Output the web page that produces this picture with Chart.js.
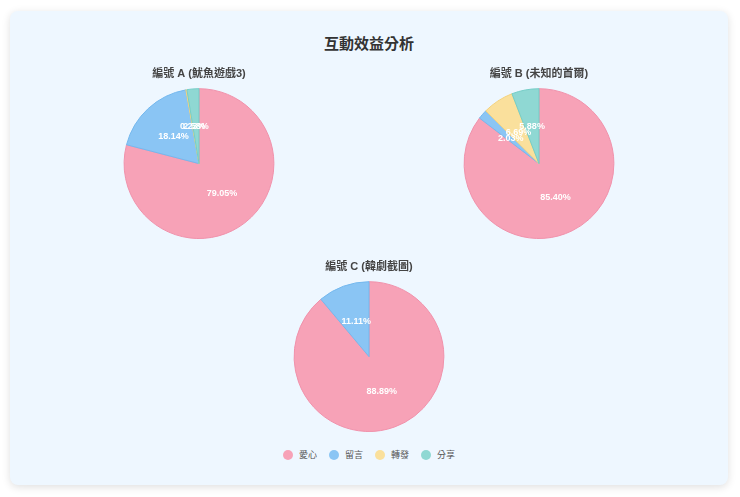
<!DOCTYPE html>
<html lang="zh-Hant">
<head>
<meta charset="utf-8">
<script src="https://cdn.jsdelivr.net/npm/chart.js@4/dist/chart.umd.min.js"></script>
<style>
  html,body{margin:0;padding:0;background:#fff;width:740px;height:497px;overflow:hidden;
    font-family:'Liberation Sans','Noto Sans CJK TC',sans-serif;}
  .card{position:absolute;left:10px;top:11px;width:718px;height:474px;background:#eef7ff;
    border-radius:8px;box-shadow:0 2px 8px rgba(0,0,0,0.13);}
  .ttl{position:absolute;left:0;top:24px;width:100%;text-align:center;font-size:15px;line-height:18px;
    font-weight:bold;color:#333;}
  .pie{position:absolute;width:340px;height:172px;}
  .lg{position:absolute;left:0;top:437px;width:100%;display:flex;justify-content:center;gap:12px;
    font-size:9px;line-height:14px;color:#555;}
  .lg span{display:flex;align-items:center;gap:6px;}
  .lg i{display:inline-block;width:10px;height:10px;border-radius:50%;}
</style>
</head>
<body>
<div class="card">
  <div class="ttl">互動效益分析</div>
  <div class="pie" style="left:19px;top:56px"><canvas id="pA"></canvas></div>
  <div class="pie" style="left:359px;top:56px"><canvas id="pB"></canvas></div>
  <div class="pie" style="left:189px;top:249px"><canvas id="pC"></canvas></div>
  <div class="lg" id="lg"></div>
</div>
<script>
/* ── data ── */
const cats=['愛心','留言','轉發','分享'];
const titles=['編號 A (魷魚遊戲3)','編號 B (未知的首爾)','編號 C (韓劇截圖)'];
const postA=[79.05,18.14,0.23,2.58];
const postB=[85.40,2.03,6.69,5.88];
const postC=[88.89,11.11,0,0];
const fills=['#f7a2b7','#8ac5f4','#fae09c','#8fd8d3'];
const edges=['#f091ab','#74b8ee','#f3d27e','#75cdc7'];

/* ── white % labels at the middle of each slice ── */
const pctLabels={id:'pctLabels',afterDatasetsDraw(chart){
  const ctx=chart.ctx,ds=chart.data.datasets[0],meta=chart.getDatasetMeta(0);
  const tot=ds.data.reduce((a,b)=>a+b,0);
  ctx.save();ctx.fillStyle='#fff';ctx.font="bold 9px 'Liberation Sans',sans-serif";
  ctx.textAlign='center';ctx.textBaseline='middle';
  meta.data.forEach((arc,i)=>{
    const v=ds.data[i];if(!v)return;
    const p=arc.tooltipPosition();
    ctx.fillText((v/tot*100).toFixed(2)+'%',p.x,p.y);
  });
  ctx.restore();
}};

function pie(id,title,data){
  new Chart(document.getElementById(id),{type:'pie',
    data:{labels:cats,datasets:[{data,backgroundColor:fills,borderColor:edges,borderWidth:1,hoverOffset:0}]},
    options:{responsive:true,animation:false,maintainAspectRatio:false,
      layout:{padding:0},
      plugins:{legend:{display:false},tooltip:{enabled:false},
        title:{display:true,text:title,color:'#444',padding:{top:0,bottom:8},
          font:{size:11,weight:'bold',family:"'Liberation Sans','Noto Sans CJK TC',sans-serif"}}}},
    plugins:[pctLabels]});
}
pie('pA',titles[0],postA);
pie('pB',titles[1],postB);
pie('pC',titles[2],postC);

document.getElementById('lg').innerHTML=cats.map((c,i)=>`<span><i style="background:${fills[i]}"></i>${c}</span>`).join('');
</script>
</body>
</html>
